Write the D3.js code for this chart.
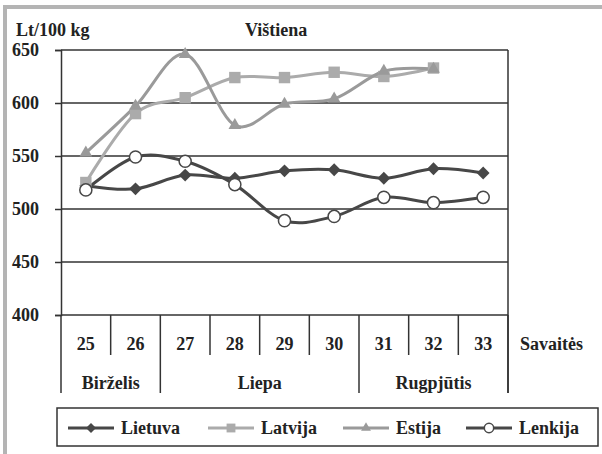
<!DOCTYPE html>
<html>
<head>
<meta charset="utf-8">
<script src="https://cdn.jsdelivr.net/npm/d3@7"></script>
<style>
  body { margin: 0; background: #fff; }
</style>
</head>
<body>
<div id="vis"></div>
<script>
const weeks = ["25", "26", "27", "28", "29", "30", "31", "32", "33"];
const monthNames = ["Birželis", "Liepa", "Rugpjūtis"];
const monthSpans = [2, 4, 3];
const yTicks = [400, 450, 500, 550, 600, 650];

const lietuva = [522, 519, 532, 529, 536, 537, 529, 538, 534];
const latvija = [525, 590, 605, 624, 624, 629, 625, 633, null];
const estija = [553, 597, 646, 579, 599, 604, 630, 632, null];
const lenkija = [518, 549, 545, 523, 489, 493, 511, 506, 511];

const svgWidth = 602,
  svgHeight = 454,
  plotLeft = 61,
  plotRight = 508,
  plotTop = 50,
  plotBottom = 315,
  fontFamily = "'Liberation Serif', 'DejaVu Serif', 'Times New Roman', serif";

const svg = d3
  .select("#vis")
  .append("svg")
  .attr("width", svgWidth)
  .attr("height", svgHeight)
  .attr("font-family", fontFamily)
  .attr("font-weight", "bold");

// gray frame of the page
svg.append("rect").attr("x", 3).attr("y", 5).attr("width", 4).attr("height", svgHeight - 5).attr("fill", "#b4b4b4");
svg.append("rect").attr("x", 3).attr("y", 5).attr("width", svgWidth - 3).attr("height", 4).attr("fill", "#b4b4b4");

const x = d3.scaleBand().domain(weeks).range([plotLeft, plotRight]);
const y = d3.scaleLinear().domain([400, 650]).range([plotBottom, plotTop]);

// gridlines
svg
  .selectAll("line.grid")
  .data(yTicks)
  .enter()
  .append("line")
  .attr("class", "grid")
  .attr("x1", plotLeft)
  .attr("x2", plotRight)
  .attr("y1", (d) => y(d))
  .attr("y2", (d) => y(d))
  .attr("stroke", "#333")
  .attr("stroke-width", 1.5);

// y axis
const yAxis = svg
  .append("g")
  .attr("transform", `translate(${plotLeft},0)`)
  .call(d3.axisLeft(y).tickValues(yTicks).tickSize(6).tickPadding(16));
yAxis.attr("font-family", fontFamily).attr("font-size", 18);
yAxis.select(".domain").attr("stroke", "#333").attr("stroke-width", 1.5);
yAxis.selectAll(".tick line").attr("stroke", "#333").attr("stroke-width", 1.5);
yAxis.selectAll(".tick text").attr("fill", "#222");

// right border
svg
  .append("line")
  .attr("x1", plotRight)
  .attr("x2", plotRight)
  .attr("y1", plotTop)
  .attr("y2", 393)
  .attr("stroke", "#333")
  .attr("stroke-width", 1.5);

// week separators (short) and month separators (long)
const monthStarts = [0];
monthSpans.forEach((s, i) => monthStarts.push(monthStarts[i] + s));
const bounds = d3.range(weeks.length + 1);
svg
  .selectAll("line.sep")
  .data(bounds)
  .enter()
  .append("line")
  .attr("class", "sep")
  .attr("x1", (i) => plotLeft + i * x.step())
  .attr("x2", (i) => plotLeft + i * x.step())
  .attr("y1", plotBottom)
  .attr("y2", (i) => (monthStarts.includes(i) ? 393 : 355))
  .attr("stroke", "#333")
  .attr("stroke-width", 1.5);

svg
  .selectAll("text.week")
  .data(weeks)
  .enter()
  .append("text")
  .attr("class", "week")
  .attr("x", (d) => x(d) + x.bandwidth() / 2)
  .attr("y", 350)
  .attr("text-anchor", "middle")
  .attr("font-size", 18)
  .attr("fill", "#222")
  .text((d) => d);

svg
  .selectAll("text.month")
  .data(monthNames)
  .enter()
  .append("text")
  .attr("class", "month")
  .attr("x", (d, i) => plotLeft + (monthStarts[i] + monthSpans[i] / 2) * x.step())
  .attr("y", 389)
  .attr("text-anchor", "middle")
  .attr("font-size", 18)
  .attr("fill", "#222")
  .text((d) => d);

svg.append("text").attr("x", 520).attr("y", 350).attr("font-size", 18).attr("fill", "#222").text("Savaitės");
svg.append("text").attr("x", 16).attr("y", 36).attr("font-size", 18).attr("fill", "#222").text("Lt/100 kg");
svg.append("text").attr("x", 245).attr("y", 36).attr("font-size", 18).attr("fill", "#222").text("Vištiena");

// series
const series = [
  { name: "Lietuva", values: lietuva, color: "#474747", marker: "diamond" },
  { name: "Latvija", values: latvija, color: "#ababab", marker: "square" },
  { name: "Estija", values: estija, color: "#9a9a9a", marker: "triangle" },
  { name: "Lenkija", values: lenkija, color: "#474747", marker: "circle" },
];

const symbolType = {
  diamond: d3.symbolDiamond2,
  square: d3.symbolSquare,
  triangle: d3.symbolTriangle,
  circle: d3.symbolCircle,
};
const symbolSize = { diamond: 105, square: 130, triangle: 70, circle: 115 };

const line = d3
  .line()
  .defined((d) => d != null)
  .x((d, i) => x(weeks[i]) + x.bandwidth() / 2)
  .y((d) => y(d))
  .curve(d3.curveCardinal.tension(0));

function drawMarker(g, s, cx, cy, scale) {
  g.append("path")
    .attr("transform", `translate(${cx},${cy})`)
    .attr("d", d3.symbol(symbolType[s.marker], symbolSize[s.marker] * scale)())
    .attr("fill", s.marker === "circle" ? "#fff" : s.color)
    .attr("stroke", s.color)
    .attr("stroke-width", s.marker === "circle" ? 1.5 : 0);
}

series.forEach((s) => {
  svg
    .append("path")
    .attr("d", line(s.values))
    .attr("fill", "none")
    .attr("stroke", s.color)
    .attr("stroke-width", 3);
});
series.forEach((s) => {
  const g = svg.append("g");
  s.values.forEach((v, i) => {
    if (v == null) return;
    drawMarker(g, s, x(weeks[i]) + x.bandwidth() / 2, y(v), 1);
  });
});

// legend
svg
  .append("rect")
  .attr("x", 57)
  .attr("y", 408)
  .attr("width", 541)
  .attr("height", 38)
  .attr("fill", "#fff")
  .attr("stroke", "#333")
  .attr("stroke-width", 1.5);

const legendX = [68, 208, 343, 466];
series.forEach((s, i) => {
  const g = svg.append("g").attr("transform", `translate(${legendX[i]},428)`);
  g.append("line").attr("x1", 0).attr("x2", 46).attr("stroke", s.color).attr("stroke-width", 3);
  drawMarker(g, s, 23, 0, 0.6);
  g.append("text").attr("x", 53).attr("y", 6).attr("font-size", 18).attr("fill", "#222").text(s.name);
});
</script>
</body>
</html>
